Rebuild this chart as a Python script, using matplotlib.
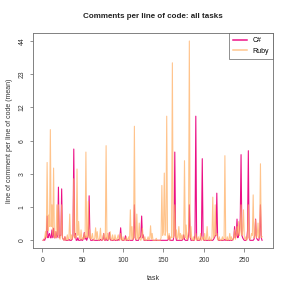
import numpy as np
import matplotlib
matplotlib.use("Agg")
import matplotlib.pyplot as plt

plt.rcParams['font.family'] = ['Liberation Sans', 'DejaVu Sans']

title = "Comments per line of code: all tasks"
xlabel = "task"
ylabel = "line of comment per line of code (mean)"
series_names = ["C#", "Ruby"]

csharp = [
    0, 0.02, 0, 0.05, 0.1, 0.59, 0.05, 0.1, 0.14, 0.05,
    0.05, 0.22, 0.05, 0.26, 0.05, 0.05, 0.18, 0.05, 0.1, 1.76,
    0.05, 0.1, 0.1, 1.67, 0.05, 0.02, 0, 0.07, 0, 0,
    0, 0, 0.02, 0, 0, 0, 0.02, 0.1, 4.71, 0.05,
    0.14, 0, 0, 0.05, 0, 0, 0, 0.02, 0, 0,
    0.05, 0.16, 0.02, 0.07, 0, 0.05, 0.1, 1.34, 0.05, 0,
    0, 0, 0.02, 0, 0, 0, 0, 0, 0, 0,
    0, 0.02, 0, 0, 0.02, 0.14, 0, 0, 0.05, 0,
    0, 0.02, 0.16, 0.02, 0, 0, 0, 0, 0.02, 0,
    0, 0, 0, 0.02, 0, 0.05, 0.27, 0.02, 0, 0,
    0, 0.02, 0.09, 0, 0, 0, 0, 0, 0, 0,
    0, 0, 0.05, 0.97, 0.05, 0, 0, 0, 0, 0.05,
    0.05, 0.1, 0.59, 0.05, 0.11, 0, 0, 0, 0, 0,
    0, 0, 0, 0, 0, 0, 0, 0, 0, 0,
    0, 0, 0, 0, 0, 0, 0, 0, 0, 0,
    0, 0, 0, 0, 0, 0.02, 0.09, 0, 0, 0,
    0, 0, 0.1, 4.39, 0.1, 0, 0, 0, 0, 0,
    0, 0, 0, 0.02, 0.11, 0.02, 0, 0, 0, 0,
    0.1, 0.97, 0.1, 0, 0, 0, 0, 0, 0.1, 9.69,
    0.05, 0, 0, 0, 0, 0.05, 0.1, 3.75, 0.05, 0,
    0, 0, 0, 0, 0, 0, 0, 0, 0, 0,
    0, 0.02, 0.05, 0.09, 0.1, 1.46, 0.05, 0, 0, 0,
    0, 0, 0, 0, 0, 0.02, 0, 0, 0, 0,
    0, 0, 0, 0, 0, 0.02, 0.05, 0.30, 0.05, 0.1,
    0.50, 0.05, 0.1, 0.2, 0.5, 4.13, 0.1, 0.05, 0.02, 0,
    0, 0, 0.02, 0.2, 4.53, 0.05, 0, 0, 0, 0,
    0, 0.02, 0.1, 0.50, 0.05, 0.02, 0, 0, 0.1, 0.97,
    0.05, 0,
]

ruby = [
    0, 0.02, 0.05, 0.18, 0.05, 3.42, 0.2, 0.62, 0.3, 7.27,
    0.3, 0.97, 0.1, 2.97, 0.05, 0.18, 0.05, 0.97, 0.1, 0.97,
    0.05, 0.02, 0.1, 0.97, 0.05, 0.02, 0, 0.07, 0, 0.02,
    0.11, 0, 0.05, 0.65, 0.02, 0.11, 0.02, 0.1, 2.24, 0.05,
    0.1, 0.05, 2.90, 0.1, 0.43, 0.05, 0.02, 0.22, 0.02, 0.05,
    0.02, 0.14, 0.05, 4.39, 0.05, 0.1, 1.10, 0.05, 0.22, 0.02,
    0.05, 0.14, 0.02, 0, 0.05, 0.27, 0.02, 0.18, 0.02, 0,
    0.05, 0.26, 0.02, 0, 0.05, 0.14, 0, 0.02, 5.09, 0.02,
    0.14, 0, 0.05, 0.18, 0.02, 0, 0.11, 0.02, 0, 0.11,
    0.02, 0, 0.05, 0.11, 0.02, 0, 0.14, 0.02, 0, 0.07,
    0, 0.02, 0, 0.07, 0, 0.02, 0.07, 0, 0.79, 0.02,
    0.30, 0.02, 0.1, 7.82, 0.05, 0.02, 0.65, 0.05, 0.02, 0.39,
    0.02, 0, 0.05, 0.26, 0.02, 0, 0.07, 0, 0, 0.02,
    0.07, 0, 0.05, 0.32, 0.02, 0.14, 0, 0, 0, 0,
    0.04, 0, 0, 0, 0, 0, 0.05, 1.85, 0.1, 0.2,
    2.61, 0.1, 0.2, 9.69, 0.05, 0.02, 0.14, 0, 0.07, 0.05,
    28.6, 0.05, 0.1, 0.97, 0.05, 0.22, 0.02, 0.05, 0.30, 0.02,
    0.14, 0.02, 0.11, 0.02, 0.05, 3.57, 0.05, 0.34, 0.02, 0.05,
    0.2, 43.9, 0.05, 0.30, 0.02, 0, 0.07, 0, 0.02, 0.14,
    0, 0.02, 0.07, 0, 0.02, 0.14, 0, 0.02, 0.07, 0,
    0.14, 0, 0.02, 0.30, 0.02, 0, 0.07, 0, 0, 0.05,
    1.28, 0.05, 0.1, 0.97, 0.1, 0.14, 0.02, 0, 0.07, 0,
    0, 0.02, 0.07, 0, 0.05, 4.03, 0.02, 0, 0.07, 0,
    0.02, 0.14, 0, 0.07, 0.02, 0, 0.05, 0.22, 0.02, 0.1,
    0.30, 0.1, 0.43, 0.1, 0.2, 0.97, 0.1, 0.2, 0.79, 0.05,
    0.02, 0.07, 0, 0.05, 0.97, 0.05, 0.02, 0.05, 0.14, 0.1,
    1.38, 0.05, 0.1, 0.48, 0.05, 0.1, 0.39, 0.05, 0.1, 3.31,
    0.05, 0.07,
]

xticks = [0, 50, 100, 150, 200, 250]

tasks = np.arange(1, len(ruby) + 1)
cs = np.array(csharp, dtype=float)
rb = np.array(ruby, dtype=float)

W = H = 291
dpi = 72
fig = plt.figure(figsize=(W / dpi, H / dpi), dpi=dpi)
ax = fig.add_axes([33.3 / W, 1 - 248.3 / H, 240 / W, 215.3 / H])

ax.set_yscale('function', functions=(np.log1p, np.expm1))

c_cs = '#EC0F85'
c_rb = '#FFB066'
ax.plot(tasks, cs, color=c_cs, lw=1.1, label=series_names[0], zorder=2)
ax.plot(tasks, rb, color=c_rb, lw=1.1, alpha=0.75, label=series_names[1], zorder=3)

tmax = np.log1p(max(cs.max(), rb.max()))
ax.set_ylim(np.expm1(-0.04 * tmax), np.expm1(1.04 * tmax))
ax.set_xlim(-11.1, 285.9)

yt_t = np.linspace(0, tmax, 7)
yt = np.expm1(yt_t)
ax.set_yticks(yt)
ax.set_yticklabels([str(int(round(v))) for v in yt], rotation=90, va='center')
ax.minorticks_off()
ax.set_xticks(xticks)
ax.set_xticklabels([str(v) for v in xticks])

edge = '#777777'
for s in ax.spines.values():
    s.set_color(edge)
    s.set_linewidth(0.9)
ax.tick_params(axis='both', direction='out', length=3.5, width=0.8,
               color=edge, labelsize=6.8, labelcolor='#333333')
ax.tick_params(axis='y', pad=4)
ax.tick_params(axis='x', pad=5)

fig.text((33.3 + 273.3) / 2 / W, 1 - 16.5 / H, title, ha='center', va='center',
         fontsize=8, fontweight='bold', color='#222222')
fig.text((33.3 + 273.3) / 2 / W, 1 - 278 / H, xlabel, ha='center', va='center',
         fontsize=7, color='#333333')
fig.text(9.5 / W, 1 - (33 + 248.3) / 2 / H, ylabel, ha='center', va='center',
         rotation=90, fontsize=7, color='#333333')

leg = ax.legend(loc='upper right', bbox_to_anchor=(1, 1), borderaxespad=0,
                fontsize=7, frameon=True, fancybox=False, handlelength=2.0,
                handletextpad=0.8, borderpad=0.6, labelspacing=0.5)
leg.get_frame().set_edgecolor('#555555')
leg.get_frame().set_linewidth(0.8)
for l in leg.get_lines():
    l.set_linewidth(1.5)
    l.set_alpha(1)
leg.get_lines()[1].set_color('#FFC58C')

fig.savefig('out.png', dpi=dpi)
